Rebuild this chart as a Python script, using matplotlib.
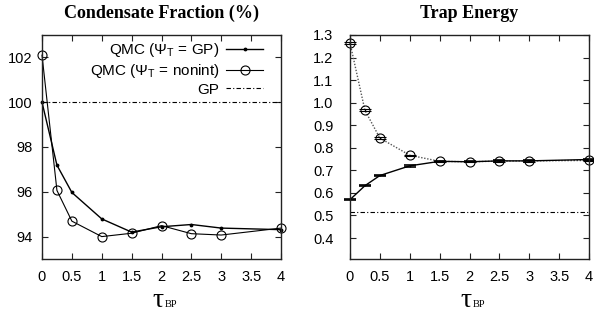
import matplotlib
matplotlib.use("Agg")
import matplotlib.pyplot as plt

plt.rcParams['font.family'] = ['Liberation Sans', 'DejaVu Sans']
plt.rcParams['mathtext.fontset'] = 'custom'
plt.rcParams['mathtext.rm'] = 'Liberation Sans'
plt.rcParams['mathtext.it'] = 'Liberation Sans:italic'

# ---- data ----
tau = [0, 0.25, 0.5, 1, 1.5, 2, 2.5, 3, 4]
cf_gp = [100.0, 97.19, 95.97, 94.79, 94.2, 94.44, 94.54, 94.38, 94.31]
cf_nonint = [102.1, 96.06, 94.69, 94.0, 94.15, 94.49, 94.13, 94.07, 94.38]
cf_gp_ref = 100.0

te_gp = [0.570, 0.632, 0.677, 0.720, 0.740, 0.738, 0.742, 0.742, 0.748]
te_gp_err = [0.003, 0.003, 0.003, 0.003, 0.003, 0.003, 0.003, 0.003, 0.004]
te_nonint = [1.265, 0.966, 0.843, 0.767, 0.740, 0.738, 0.741, 0.742, 0.744]
te_nonint_err = [0.004, 0.004, 0.003, 0.003, 0.003, 0.003, 0.003, 0.003, 0.004]
te_gp_ref = 0.516

xticks = [0, 0.5, 1, 1.5, 2, 2.5, 3, 3.5, 4]
xticklabels = ['0', '0.5', '1', '1.5', '2', '2.5', '3', '3.5', '4']
cf_yticks = [94, 96, 98, 100, 102]
te_yticks = [0.4, 0.5, 0.6, 0.7, 0.8, 0.9, 1.0, 1.1, 1.2, 1.3]

W, H = 594, 313
fig = plt.figure(figsize=(W / 100, H / 100), dpi=100)

def axrect(l, r, t, b):
    return [l / W, (H - b) / H, (r - l) / W, (b - t) / H]

ax1 = fig.add_axes(axrect(42, 281, 35, 259))
ax2 = fig.add_axes(axrect(350, 589, 35, 259))

dashdot = (0, (4, 2, 1, 2))

def style(ax, ypad):
    ax.set_xlim(0, 4)
    ax.set_xticks(xticks)
    ax.set_xticklabels(xticklabels)
    ax.tick_params(direction='in', top=True, right=True, length=4, width=0.8,
                   labelsize=10.5, colors='#222222', labelcolor='black')
    ax.tick_params(axis='x', pad=8)
    ax.tick_params(axis='y', pad=ypad)
    for s in ax.spines.values():
        s.set_linewidth(1.0)
        s.set_color('#222222')

# ---- left panel ----
style(ax1, 7)
ax1.set_ylim(93, 103)
ax1.set_yticks(cf_yticks)
ax1.plot(tau, cf_gp, '-', color='black', lw=1.0, marker='.', ms=3.5,
         clip_on=False, label=r'QMC ($\mathrm{\Psi_T}$ = GP)')
ax1.plot(tau, cf_nonint, '-', color='black', lw=0.8, marker='o', ms=6.5,
         mfc='none', mew=0.8, clip_on=False, label=r'QMC ($\mathrm{\Psi_T}$ = nonint)')
ax1.axhline(cf_gp_ref, color='black', lw=0.8, linestyle=dashdot, label='GP')
ax1.legend(loc='upper right', bbox_to_anchor=(0.925, 0.972), frameon=False,
           markerfirst=False, fontsize=11, handlelength=2.4, handletextpad=0.45,
           labelspacing=0.18, borderpad=0, borderaxespad=0, numpoints=1)

# ---- right panel ----
style(ax2, 12)
ax2.set_ylim(0.307, 1.3)
ax2.set_yticks(te_yticks)
ax2.set_yticklabels([f'{v:.1f}' for v in te_yticks])
ax2.axhline(te_gp_ref, color='black', lw=0.8, linestyle=dashdot)
ax2.plot(tau, te_nonint, linestyle=(0, (1, 1.2)), color='#555555', lw=1.0, clip_on=False)
ax2.errorbar(tau, te_nonint, yerr=te_nonint_err, fmt='o', ms=6.5, mfc='none',
             mec='black', mew=0.8, ecolor='black', elinewidth=1.0, capsize=4,
             capthick=1.2, clip_on=False)
ax2.errorbar(tau, te_gp, yerr=te_gp_err, fmt='-', color='black', lw=1.0,
             ecolor='black', elinewidth=1.0, capsize=4, capthick=1.2, clip_on=False)

# ---- titles ----
for ax, t in ((ax1, 'Condensate Fraction (%)'), (ax2, 'Trap Energy')):
    ax.text(0.5, 1.0746, t, transform=ax.transAxes, ha='center', va='baseline',
            fontsize=13, fontweight='bold', family='Liberation Serif')

# ---- x labels ----
for cx in (161.5, 469.5):
    fig.text((cx + 2.5) / W, (H - 306.7) / H, 'τ', ha='right', va='baseline',
             fontsize=20, family='Liberation Serif')
    fig.text((cx + 3.5) / W, (H - 306.7) / H, 'BP', ha='left', va='baseline',
             fontsize=7.5, family='Liberation Serif')

fig.savefig('out.png', dpi=100)
